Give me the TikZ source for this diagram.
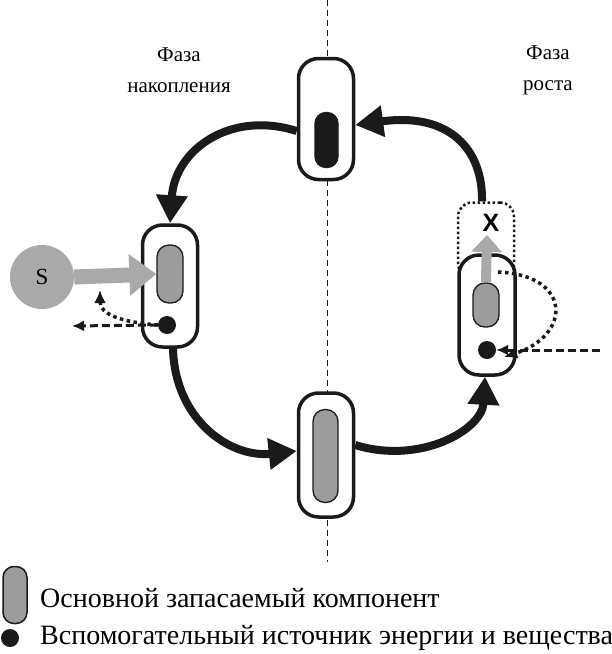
\documentclass[tikz,border=0pt]{standalone}
\usepackage{fontspec}
\setmainfont{Liberation Serif}
\newfontfamily\xsans{Liberation Sans}
\usetikzlibrary{arrows.meta}
\definecolor{capgray}{HTML}{9C9C9C}
\definecolor{sgray}{HTML}{A9A9A9}
\definecolor{ink}{HTML}{1A1A1A}
\begin{document}
\begin{tikzpicture}[x=1pt,y=-1pt,
  cell/.style={draw=ink, line width=3.5pt, rounded corners=20pt, minimum width=55pt, inner sep=0pt, fill=white},
  capsule/.style={draw=ink, line width=1.3pt, fill=capgray, rounded corners=12pt, minimum width=25pt, inner sep=0pt},
  blackcap/.style={capsule, fill=ink},
  dotn/.style={circle, fill=ink, minimum size=18pt, inner sep=0pt},
  bigarrow/.style={draw=ink, line width=8pt, -{Triangle[length=28pt,width=30pt]}},
  dotarrow/.style={draw=ink, line width=3.5pt, dash pattern=on 3.5pt off 3.5pt, -{Latex[length=13pt,width=12pt]}},
  dasharrow/.style={draw=ink, line width=3pt, dash pattern=on 8pt off 4pt, -{Latex[length=12pt,width=11pt]}},
  phase/.style={font=\fontsize{21}{31}\selectfont, align=center},
  legend/.style={font=\fontsize{28}{30}\selectfont, anchor=west, inner sep=0pt},
]
\useasboundingbox (0,0) rectangle (612,654);

% axis
\draw[ink, line width=1pt, dash pattern=on 6pt off 4pt] (327,0) coordinate (axtop) -- (327,562) coordinate (axbot);

% phase labels
\node[phase] (lphase) at (179,70) {Фаза\\накопления};
\node[phase] (rphase) at (548,70) {Фаза\\роста};

% dotted box above right cell
\node[draw=ink, line width=2.5pt, dash pattern=on 2.5pt off 2.5pt, rounded corners=14pt,
      minimum width=56pt, minimum height=75pt, inner sep=0pt] (xbox) at (486,240) {};

% cells
\node[cell, minimum height=121pt] (top) at (326,119) {};
\node[blackcap, minimum width=23pt, rounded corners=11pt, minimum height=55pt] (topin) at (326.5,140) {};

\node[cell, minimum height=124pt] (bot) at (326,455) {};
\node[capsule, minimum height=93pt] (botin) at (325.5,456) {};

\node[cell, minimum height=122pt] (left) at (170,286) {};
\node[capsule, minimum width=26pt, minimum height=58pt] (leftin) at (170,274) {};
\node[dotn] (ldot) at (167,325) {};

\node[cell, minimum width=56pt, minimum height=120pt] (right) at (487,315) {};
\node[capsule, minimum width=26pt, minimum height=44pt] (rightin) at (486,305) {};
\node[dotn] (rdot) at (487,350) {};

% X label
\node[font=\xsans\bfseries\fontsize{25}{25}\selectfont, inner sep=0pt] (xl) at (491,223) {X};

% S source
\node[circle, fill=sgray, minimum size=64pt, inner sep=0pt, font=\fontsize{23}{23}\selectfont] (S) at (42,277) {S};
\draw[sgray, line width=15pt, -{Triangle[length=27pt,width=40pt]}] (S.east) -- (leftin.west);

% gray arrow up in right cell
\coordinate (xtip) at (487,235);
\draw[sgray, line width=10pt, -{Triangle[length=17pt,width=30pt]}] (rightin.north) -- (xtip);

% big cycle arrows
\draw[bigarrow] ([xshift=-4pt]xbox.north) .. controls (483,150) and (450,112) .. ([yshift=-6pt]top.east);
\draw[bigarrow] ([yshift=-12pt]top.west) .. controls (230,110) and (175,150) .. (left.north);
\draw[bigarrow] ([xshift=3pt]left.south) .. controls (175,420) and (230,458) .. ([yshift=4pt]bot.west);
\draw[bigarrow] ([yshift=10pt]bot.east) .. controls (420,465) and (482,430) .. ([xshift=-2pt]right.south);

% left small arrows
\coordinate (lout) at (72,326);
\coordinate (lup) at (100,290);
\draw[dotarrow] (ldot.west) .. controls (120,322) and (100,314) .. (lup);
\draw[dasharrow] (ldot.west) -- (lout);

% right small arrows
\coordinate (rstart) at (498,272);
\coordinate (rin) at (600,350);
\draw[dotarrow] (rstart) .. controls (572,275) and (572,335) .. ([xshift=8pt,yshift=-7pt]rdot.east);
\draw[dasharrow] (rin) -- (rdot.east);

% legend
\node[capsule, minimum width=24pt, minimum height=57pt, rounded corners=11pt, line width=1.5pt] (legcap) at (15,595) {};
\node[legend] (legt1) at (40,598) {Основной запасаемый компонент};
\node[dotn] (legdot) at (10,638) {};
\node[legend] (legt2) at (40,638) {Вспомогательный источник энергии и вещества};
\end{tikzpicture}
\end{document}
